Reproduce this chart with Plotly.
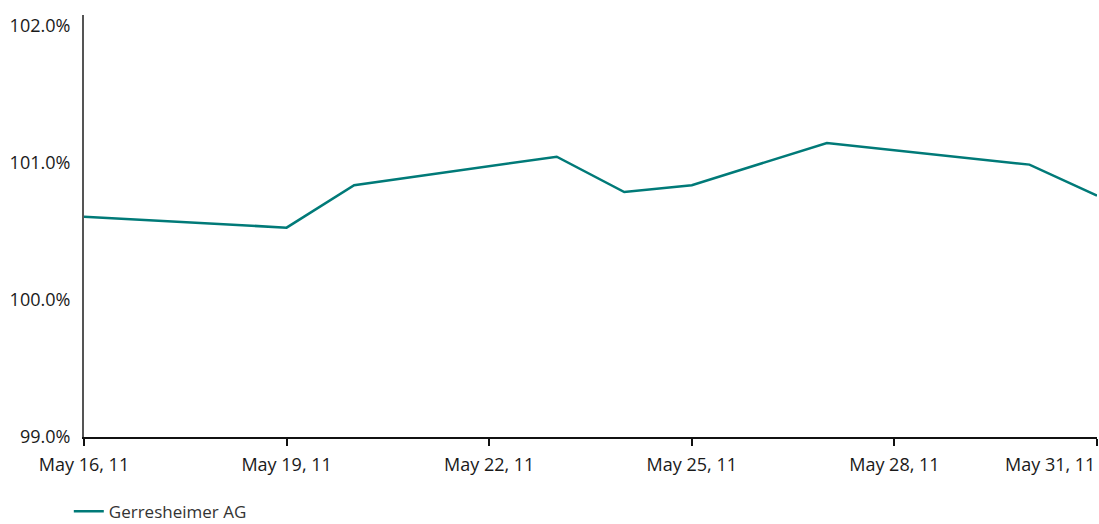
import plotly.graph_objects as go

dates = ["2011-05-16", "2011-05-18", "2011-05-19", "2011-05-20", "2011-05-23",
         "2011-05-24", "2011-05-25", "2011-05-27", "2011-05-30", "2011-05-31"]
values = [100.608, 100.555, 100.528, 100.837, 101.046,
          100.788, 100.837, 101.146, 100.988, 100.761]
series_name = "Gerresheimer AG"
tick_dates = ["2011-05-16", "2011-05-19", "2011-05-22", "2011-05-25", "2011-05-28", "2011-05-31"]
tick_labels = ["May 16, 11", "May 19, 11", "May 22, 11", "May 25, 11", "May 28, 11", "May 31, 11"]
y_ticks = [99, 100, 101, 102]
y_labels = ["99.0%", "100.0%", "101.0%", "102.0%"]

fig = go.Figure()
fig.add_trace(go.Scatter(x=dates, y=values, mode="lines", name=series_name,
                         line=dict(color="#007A78", width=2.5)))

# last x label drawn right-aligned at the axis end so it stays inside the page
fig.add_annotation(x=tick_dates[-1], xref="x", y=0, yref="paper", yshift=-13,
                   text=tick_labels[-1], showarrow=False, xanchor="right", yanchor="top",
                   font=dict(family="Open Sans", size=18, color="#1a1a1a"))

fig.update_layout(
    width=1099, height=524,
    margin=dict(l=84, r=2, t=15, b=87, autoexpand=False),
    plot_bgcolor="white", paper_bgcolor="white",
    font=dict(family="Open Sans", size=18, color="#1a1a1a"),
    showlegend=True,
    legend=dict(orientation="h", x=-0.015, xanchor="left", yref="container", y=0.058,
                yanchor="top", font=dict(size=17, color="#333333"), itemwidth=30),
    xaxis=dict(type="date", range=["2011-05-16", "2011-05-31"], tickvals=tick_dates,
               ticktext=tick_labels[:-1] + [""], showgrid=False, zeroline=False,
               showline=True, linecolor="#111111", linewidth=1.5,
               ticks="outside", ticklen=7, tickcolor="#111111", tickwidth=1.5,
               ticklabelstandoff=4, automargin=False),
    yaxis=dict(range=[99, 102.08], tickvals=y_ticks, ticktext=y_labels,
               showgrid=False, zeroline=False, showline=True, linecolor="#555555",
               linewidth=2, ticks="", ticklabelstandoff=8, automargin=False),
)

fig.write_html("out.html")
